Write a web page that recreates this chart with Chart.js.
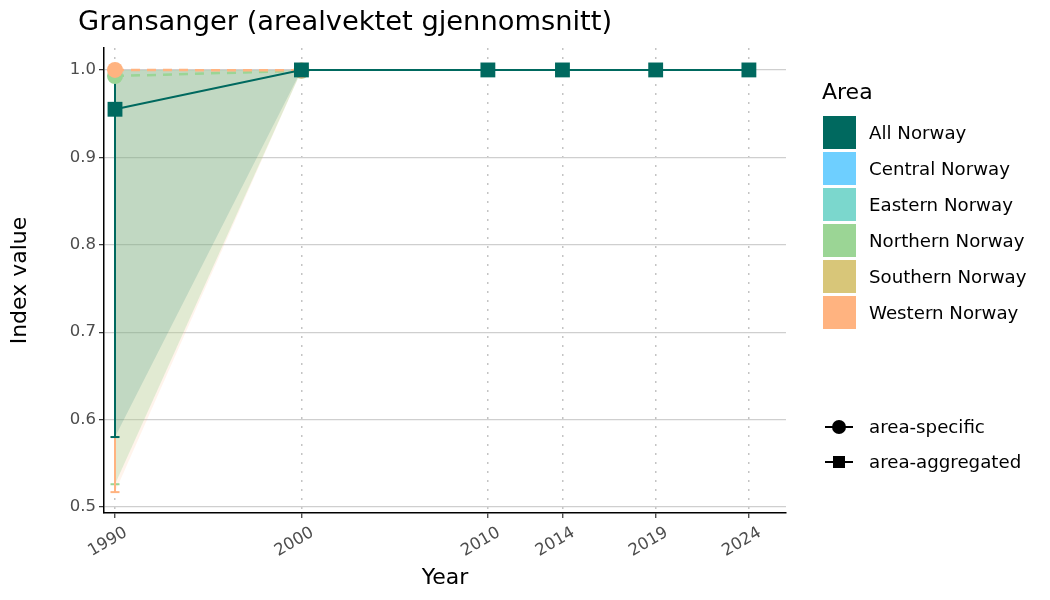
<!DOCTYPE html>
<html>
<head>
<meta charset="utf-8">
<script src="https://cdn.jsdelivr.net/npm/chart.js@4.4.1/dist/chart.umd.min.js"></script>
<style>
    body { margin: 0; background: #fff; font-family: "DejaVu Sans", sans-serif; }
    #wrap { position: relative; width: 1050px; height: 600px; }
    #title { position: absolute; left: 78px; top: 5px; font-size: 27.3px; line-height: 32px; color: #000; white-space: nowrap; }
    #legend { position: absolute; left: 822px; top: 78px; color: #000; }
    #legend .head { font-size: 22px; height: 28px; line-height: 28px; margin-bottom: 10px; }
    #legend .row { position: relative; height: 36px; }
    #legend .key { position: absolute; left: 1px; top: 0; width: 33px; height: 33px; }
    #legend .lbl { position: absolute; left: 47px; top: 0; line-height: 33px; font-size: 18.2px; white-space: nowrap; }
    #shapes { position: absolute; left: 822px; top: 409px; color: #000; }
    #shapes .row { position: relative; height: 35px; }
    #shapes svg { position: absolute; left: 1px; top: 0; }
    #shapes .lbl { position: absolute; left: 47px; top: 0; line-height: 36px; font-size: 18.2px; white-space: nowrap; }
</style>
</head>
<body>
<div id="wrap">
    <canvas id="chart" width="1050" height="600"></canvas>
    <div id="title">Gransanger (arealvektet gjennomsnitt)</div>
    <div id="legend"></div>
    <div id="shapes"></div>
</div>
<script>
var aYears = [1990, 2000, 2010, 2014, 2019, 2024];
var aYTicks = [0.5, 0.6, 0.7, 0.8, 0.9, 1.0];
var aAreas = ['All Norway', 'Central Norway', 'Eastern Norway', 'Northern Norway', 'Southern Norway', 'Western Norway'];
var aAreaColors = ['#00695f', '#6ecfff', '#7bd7cd', '#9bd595', '#d8c679', '#ffb380'];
var aShapes = ['area-specific', 'area-aggregated'];

// area-aggregated (All Norway)
var aAllValues = [0.955, 1, 1, 1, 1, 1];
var aAllLower = [0.58, 1, 1, 1, 1, 1];
var aAllUpper = [1, 1, 1, 1, 1, 1];

// area-specific, only drawn for the first two years
var aSpecYears = [1990, 2000];
var aNorthValues = [0.993, 0.999];
var aNorthLower = [0.526, 0.999];
var aNorthUpper = [1, 1];
var aWestValues = [1, 0.9995];
var aWestLower = [0.517, 0.9995];
var aWestUpper = [1, 1];

function toPoints(aX, aY) {
    var aOut = [];
    for (var i = 0; i < aX.length; i++) {
        aOut.push({x: aX[i], y: aY[i]});
    }
    return aOut;
}

function ribbon(aX, aLo, aHi, sFill, iOrder) {
    return [
        {data: toPoints(aX, aHi), borderWidth: 0, pointRadius: 0, fill: false, order: iOrder},
        {data: toPoints(aX, aLo), borderWidth: 0, pointRadius: 0, fill: '-1', backgroundColor: sFill, order: iOrder}
    ];
}

function errorBars(aX, aLo, aHi, sColor, iOrder) {
    var aSets = [];
    for (var i = 0; i < aX.length; i++) {
        if (aHi[i] - aLo[i] < 0.002) continue;
        aSets.push({
            data: [{x: aX[i], y: aLo[i]}, {x: aX[i], y: aHi[i]}],
            borderColor: sColor, borderWidth: 2, fill: false,
            pointStyle: 'line', pointRadius: 4.5, pointBorderColor: sColor, pointBorderWidth: 2,
            order: iOrder
        });
    }
    return aSets;
}

var aDatasets = [].concat(
    ribbon(aSpecYears, aWestLower, aWestUpper, 'rgba(255,179,128,0.15)', 20),
    ribbon(aSpecYears, aNorthLower, aNorthUpper, 'rgba(155,213,149,0.3)', 19),
    ribbon(aYears, aAllLower, aAllUpper, 'rgba(0,106,97,0.14)', 18),
    errorBars(aSpecYears, aNorthLower, aNorthUpper, aAreaColors[3], 12),
    errorBars(aSpecYears, aWestLower, aWestUpper, aAreaColors[5], 11),
    errorBars(aYears, aAllLower, aAllUpper, aAreaColors[0], 10),
    [{
        data: toPoints(aSpecYears, aNorthValues), borderColor: aAreaColors[3], borderWidth: 2.5,
        borderDash: [9, 7], pointStyle: 'circle', pointRadius: 8, pointBackgroundColor: aAreaColors[3],
        pointBorderWidth: 0, fill: false, order: 5
    }, {
        data: toPoints(aSpecYears, aWestValues), borderColor: aAreaColors[5], borderWidth: 2.5,
        borderDash: [9, 7], pointStyle: 'circle', pointRadius: 8, pointBackgroundColor: aAreaColors[5],
        pointBorderWidth: 0, fill: false, order: 4
    }, {
        data: toPoints(aYears, aAllValues), borderColor: aAreaColors[0], borderWidth: 2,
        pointStyle: 'rect', pointRadius: 10.5, pointBackgroundColor: aAreaColors[0],
        pointBorderWidth: 0, fill: false, order: 1
    }]
);

Chart.defaults.font.family = '"DejaVu Sans", sans-serif';

new Chart(document.getElementById('chart'), {
    type: 'line',
    data: {datasets: aDatasets},
    options: {
        responsive: false,
        animation: false,
        layout: {padding: {left: 0, right: 264, top: 48, bottom: 0}},
        plugins: {legend: {display: false}, tooltip: {enabled: false}},
        scales: {
            x: {
                type: 'linear', min: 1989.41, max: 2025.99,
                afterBuildTicks: function (s) { s.ticks = aYears.map(function (v) { return {value: v}; }); },
                afterFit: function (s) { s.height = 87; },
                ticks: {
                    minRotation: 30, maxRotation: 30, color: '#4d4d4d', font: {size: 16.5}, padding: 5,
                    labelOffset: 11,
                    callback: function (v) { return String(v); }
                },
                grid: {
                    color: '#c4c4c4', lineWidth: 1.5,
                    tickColor: '#333', tickWidth: 1.2, tickLength: 5, tickBorderDash: []
                },
                border: {color: '#000', width: 1.5, dash: [2, 7]},
                title: {display: true, text: 'Year', color: '#000', font: {size: 22}, padding: {top: 0, bottom: 9}}
            },
            y: {
                min: 0.4931, max: 1.0251,
                afterBuildTicks: function (s) { s.ticks = aYTicks.map(function (v) { return {value: v}; }); },
                afterFit: function (s) { s.width = 104; },
                ticks: {
                    color: '#4d4d4d', font: {size: 16.5}, padding: 3,
                    callback: function (v) { return v.toFixed(1); }
                },
                grid: {color: '#cfcfcf', lineWidth: 1.3, tickColor: '#333', tickWidth: 1.2, tickLength: 5},
                border: {color: '#000', width: 1.5},
                title: {display: true, text: 'Index value', color: '#000', font: {size: 22}, padding: {top: 7, bottom: 0}}
            }
        }
    }
});

// legends
var oLegend = document.getElementById('legend');
var sHtml = '<div class="head">Area</div>';
for (var i = 0; i < aAreas.length; i++) {
    sHtml += '<div class="row"><div class="key" style="background:' + aAreaColors[i] + '"></div>' +
        '<div class="lbl">' + aAreas[i] + '</div></div>';
}
oLegend.innerHTML = sHtml;

var oShapes = document.getElementById('shapes');
var aMarks = [
    '<circle cx="16" cy="18" r="7" fill="#000"/>',
    '<rect x="10" y="12" width="12" height="12" fill="#000"/>'
];
sHtml = '';
for (var j = 0; j < aShapes.length; j++) {
    sHtml += '<div class="row"><svg width="34" height="36"><line x1="2" y1="18" x2="30" y2="18" stroke="#000" stroke-width="2"/>' +
        aMarks[j] + '</svg><div class="lbl">' + aShapes[j] + '</div></div>';
}
oShapes.innerHTML = sHtml;
</script>
</body>
</html>
